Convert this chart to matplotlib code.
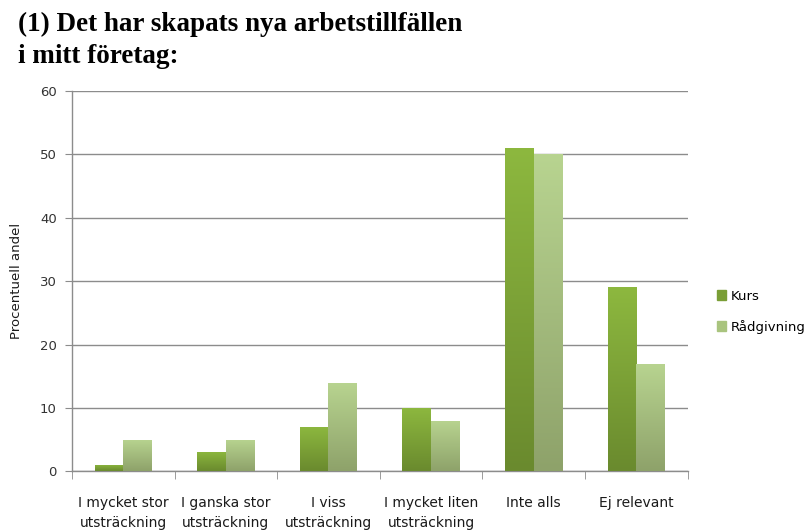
import numpy as np
import matplotlib
matplotlib.use("Agg")
import matplotlib.pyplot as plt
from matplotlib.colors import LinearSegmentedColormap

categories = ["I mycket stor\nutsträckning", "I ganska stor\nutsträckning", "I viss\nutsträckning",
              "I mycket liten\nutsträckning", "Inte alls", "Ej relevant"]
kurs = [1, 3, 7, 10, 51, 29]
radgivning = [5, 5, 14, 8, 50, 17]
series_names = ["Kurs", "Rådgivning"]
yticks = [0, 10, 20, 30, 40, 50, 60]

fig = plt.figure(figsize=(8.12, 5.30), dpi=100)
ax = fig.add_axes([0.0887, 0.111, 0.758, 0.717])

x = np.arange(len(categories))
w = 0.28
b1 = ax.bar(x - w / 2, kurs, w, color="#7a9e36", label=series_names[0], zorder=3)
b2 = ax.bar(x + w / 2, radgivning, w, color="#a9c47e", label=series_names[1], zorder=3)

cm1 = LinearSegmentedColormap.from_list("k", ["#6a8a2e", "#8db83f"])
cm2 = LinearSegmentedColormap.from_list("r", ["#8ea26a", "#b8d490"])
grad = np.linspace(0, 1, 256).reshape(-1, 1)
for bars, cm in ((b1, cm1), (b2, cm2)):
    for p in bars:
        x0, y0 = p.get_x(), p.get_y()
        im = ax.imshow(grad, cmap=cm, origin="lower", aspect="auto",
                       extent=(x0, x0 + p.get_width(), y0, y0 + p.get_height()), zorder=3.5)
        im.set_clip_path(p)

ax.set_xlim(-0.5, len(categories) - 0.5)
ax.set_ylim(0, 60)
ax.set_yticks(yticks)
ax.yaxis.grid(True, color="#8c8c8c", linewidth=1.0, zorder=0)
ax.set_axisbelow(True)
for s in ("top", "right"):
    ax.spines[s].set_visible(False)
for s in ("left", "bottom"):
    ax.spines[s].set_color("#8c8c8c")
    ax.spines[s].set_linewidth(1.0)

ax.set_xticks(x)
ax.set_xticklabels(categories, fontsize=10, color="#1a1a1a", linespacing=1.5)
ax.tick_params(axis="x", which="major", length=0, pad=18)
ax.set_xticks(np.arange(-0.5, len(categories)), minor=True)
ax.tick_params(axis="x", which="minor", length=6, color="#8c8c8c", direction="out")
ax.tick_params(axis="y", length=5, color="#8c8c8c", labelsize=9.5, labelcolor="#333333", pad=6)

ax.set_ylabel("Procentuell andel", fontsize=9.5, color="#1a1a1a", labelpad=12)

handles = [plt.Rectangle((0, 0), 1, 1, color="#7a9e36"), plt.Rectangle((0, 0), 1, 1, color="#a9c47e")]
fig.legend(handles, series_names, loc="center left", bbox_to_anchor=(0.873, 0.412),
           frameon=False, fontsize=9.5, handlelength=0.7, handleheight=0.7,
           handletextpad=0.35, labelspacing=1.3, borderaxespad=0.2)

fig.text(0.022, 0.978, "(1) Det har skapats nya arbetstillfällen\ni mitt företag:",
         ha="left", va="top", fontsize=19.5, fontweight="bold",
         family=["Liberation Serif", "DejaVu Serif"], linespacing=1.4)

fig.savefig("out.png", dpi=100)
